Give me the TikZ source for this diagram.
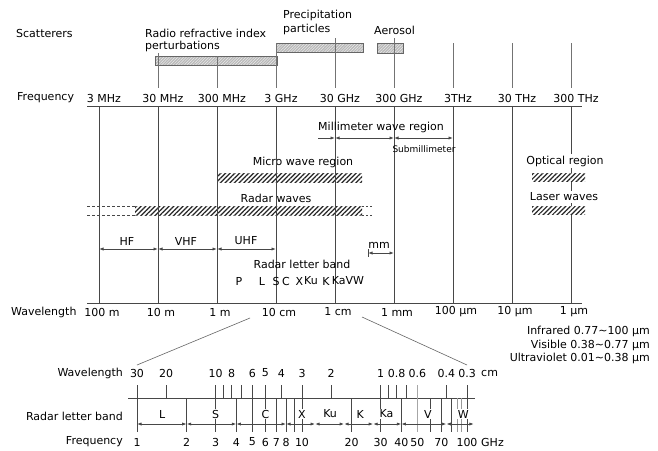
\documentclass[tikz,border=0pt]{standalone}
\usepackage{fontspec}
\setmainfont{DejaVu Sans}
\usetikzlibrary{arrows.meta,patterns.meta}
\begin{document}
\begin{tikzpicture}[x=1pt,y=-1pt,
  font=\fontsize{11}{13}\selectfont,
  ln/.style={line width=0.8pt,draw=black!72},
  thin ln/.style={line width=0.6pt,draw=black!60},
  lbl/.style={inner sep=0pt,anchor=center},
  hatchtop/.style={draw=black!60,line width=0.6pt,preaction={fill=gray!55},
     pattern={Lines[angle=45,distance=2pt,line width=0.5pt]},pattern color=gray!15},
  hatchmid/.style={preaction={fill=white},
     pattern={Lines[angle=45,distance=3.3pt,line width=1.2pt]},pattern color=black!85},
  dimarrow/.style={ln,{Latex[length=4.5pt,width=3.2pt]}-{Latex[length=4.5pt,width=3.2pt]}},
  endarrow/.style={ln,-{Latex[length=4.5pt,width=3.2pt]}},
  smalltxt/.style={lbl,font=\fontsize{9}{11}\selectfont}]
\useasboundingbox[fill=white] (0,0) rectangle (658,450);

% ---------- scatterers ----------
\node[lbl,anchor=west] (scat) at (16,33) {Scatterers};
\node[lbl,anchor=west] (rri1) at (145,33) {Radio refractive index};
\node[lbl,anchor=west] (rri2) at (145,46) {perturbations};
\node[lbl,anchor=west] (pp1) at (283,15) {Precipitation};
\node[lbl,anchor=west] (pp2) at (283,29) {particles};
\node[lbl,anchor=west] (aer) at (374,30) {Aerosol};
\draw[hatchtop] (155,56) rectangle (277,65);
\draw[hatchtop] (276,43) rectangle (363,52);
\draw[hatchtop] (377,43) rectangle (403,53);
\foreach \x/\yt in {158/53,217/56,276/43,335/38,394/38,453/43,512/43,571/43}
  \draw[ln,draw=black!55] (\x,\yt) -- (\x,88);

% ---------- frequency / wavelength axes ----------
\node[lbl,anchor=west] (freq) at (17,98) {Frequency};
\node[lbl,anchor=west] (wave) at (11,312) {Wavelength};
\coordinate (fa0) at (87,106); \coordinate (fa1) at (582,106);
\coordinate (wa0) at (87,303); \coordinate (wa1) at (582,303);
\draw[ln] (fa0) -- (fa1);
\draw[ln] (wa0) -- (wa1);
\foreach \t [count=\i from 0] in {3 MHz,30 MHz,300 MHz,3 GHz,30 GHz,300 GHz,3THz,30 THz,300 THz}
  \node[lbl] (fl\i) at ({99+59*\i+5},98) {\t};
\foreach \t [count=\i from 0] in {100 m,10 m,1 m,10 cm,1 cm,1 mm,100 µm,10 µm,1 µm}
  \node[lbl] (wl\i) at ({99+59*\i+3},312) {\t};

% ---------- middle bars (under the lines) ----------
\node[lbl] (mw) at (303,162) {Micro wave region};
\fill[hatchmid] (217,173) rectangle (362,182);
\node[lbl] (rw) at (276,198) {Radar waves};
\fill[hatchmid] (135,206) rectangle (362,215);
\draw[ln,dash pattern=on 3pt off 2pt] (87,206) -- (135,206);
\draw[ln,dash pattern=on 3pt off 2pt] (87,215) -- (135,215);
\draw[ln,dash pattern=on 2pt off 2pt] (362,206) -- (372,206);
\draw[ln,dash pattern=on 2pt off 2pt] (362,215) -- (372,215);

% vertical grid lines
\foreach \i in {0,...,8}
  \draw[ln] ({99+59*\i},106) -- ({99+59*\i},303);

% ---------- millimeter ----------
\node[lbl] (mmr) at (381,127) {Millimeter wave region};
\draw[endarrow] (318,138) -- (335,138);
\draw[dimarrow] (335,138) -- (394,138);
\draw[dimarrow] (394,138) -- (453,138);
\node[smalltxt] (subm) at (424,149) {Submillimeter};

% ---------- optical / laser ----------
\node[lbl,fill=white,inner sep=1.5pt] (opt) at (565,161) {Optical region};
\fill[hatchmid] (532,173) rectangle (585,181);
\node[lbl,fill=white,inner sep=1.5pt] (las) at (564,197) {Laser waves};
\fill[hatchmid] (532,206) rectangle (585,214);

% ---------- HF / VHF / UHF ----------
\draw[dimarrow] (99,249) -- (158,249);
\draw[dimarrow] (158,249) -- (217,249);
\draw[dimarrow] (217,249) -- (276,249);
\node[lbl] (hf) at (127,241) {HF};
\node[lbl] (vhf) at (186,241) {VHF};
\node[lbl] (uhf) at (246,241) {UHF};
\node[lbl] (mmt) at (379,245) {mm};
\draw[dimarrow] (368,253) -- (394,253);
\draw[ln] (368,249) -- (368,257);

% ---------- radar letter band ----------
\node[lbl] (rlb) at (302,264) {Radar letter band};
\foreach \t/\x [count=\i] in {P/239,L/262,S/276,C/286,X/299.5,Ku/311,K/326,KaVW/348}
  \node[lbl] (rl\i) at (\x,281) {\t};

% ---------- notes ----------
\node[lbl,anchor=east] (ir) at (650,331) {Infrared 0.77∼100 µm};
\node[lbl,anchor=east] (vis) at (650,345) {Visible 0.38∼0.77 µm};
\node[lbl,anchor=east] (uv) at (650,358) {Ultraviolet 0.01∼0.38 µm};

% ---------- zoom lines ----------
\coordinate (z1a) at (250,318); \coordinate (z1b) at (137,365);
\coordinate (z2a) at (362,317); \coordinate (z2b) at (467,365);
\draw[thin ln] (z1a) -- (z1b);
\draw[thin ln] (z2a) -- (z2b);

% ---------- detailed scale ----------
\node[lbl,anchor=east] (bwl) at (123,373) {Wavelength};
\node[lbl,anchor=east] (brl) at (123,416) {Radar letter band};
\node[lbl,anchor=east] (bfr) at (123,442) {Frequency};
\coordinate (ba0) at (128,398); \coordinate (ba1) at (475,398);
\draw[ln] (ba0) -- (ba1);
% long lines
\foreach \f in {1,3,5,6,10,30,100}
  \draw[ln] ({137+165*log10(\f)},385) -- ({137+165*log10(\f)},432);
\draw[ln,draw=black!35] ({137+165*log10(50)},385) -- ({137+165*log10(50)},432);
% short ticks above the axis (wavelength in cm)
\foreach \l in {20,9,8,7,4,2,0.9,0.8,0.7,0.4}
  \draw[ln] ({137+165*log10(30/\l)},385) -- ({137+165*log10(30/\l)},398);
% lines below the axis (frequency in GHz)
\foreach \f in {2,4,7,8,9,20,40,60,70,80}
  \draw[ln] ({137+165*log10(\f)},398) -- ({137+165*log10(\f)},432);
\draw[ln,draw=black!40] ({137+165*log10(88)},398) -- ({137+165*log10(88)},432);
\draw[ln,draw=black!40] ({137+165*log10(92)},398) -- ({137+165*log10(92)},432);
% band arrows
\foreach \a/\b in {1/2,2/4,4/8,8/12,12/18,18/27,27/40,40/75,75/110}
  \draw[dimarrow] ({137+165*log10(\a)},424) -- ({137+165*log10(\b)},424);
% band letters
\foreach \t/\f [count=\i] in {L/1.42,S/3,C/6,X/10,Ku/14.8,K/22.5,Ka/32.5,V/58,W/95}
  \node[lbl,fill=white,inner sep=0.5pt] (bb\i) at ({137+165*log10(\f)},414) {\t};
% wavelength labels
\foreach \l [count=\i] in {30,20,10,8,6,5,4,3,2,1,0.8,0.6,0.4,0.3}
  \node[lbl] (bw\i) at ({137+165*log10(30/\l)},373) {\l};
\node[lbl,anchor=west] (bcm) at (481,373) {cm};
% frequency labels
\foreach \f [count=\i] in {1,2,3,4,5,6,7,8,10,20,30,40,50,70,100}
  \node[lbl] (bf\i) at ({137+165*log10(\f)},442) {\f};
\node[lbl,anchor=west] (bghz) at (481,442) {GHz};
\end{tikzpicture}
\end{document}
